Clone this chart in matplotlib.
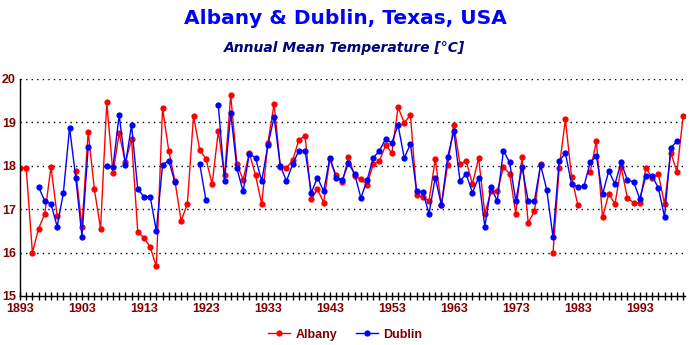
import numpy as np
import matplotlib
matplotlib.use('Agg')
import matplotlib.pyplot as plt
from matplotlib.ticker import MultipleLocator

nan = np.nan

# years 1893..2000
years = list(range(1893, 2001))

albany = [17.95, 17.95, 16.0, 16.55, 16.9, 17.97, 16.85, nan, nan, 17.87,
          16.6, 18.78, 17.46, 16.55, 19.46, 17.83, 18.75, 18.08, 18.61, 16.48,
          16.34, 16.13, 15.68, 19.33, 18.35, 17.65, 16.73, 17.12, 19.15, 18.36,
          18.16, 17.58, 18.8, 17.78, 19.63, 18.04, 17.68, 18.3, 17.78, 17.12,
          18.53, 19.43, 17.98, 17.95, 18.13, 18.6, 18.69, 17.23, 17.46, 17.15,
          18.16, 17.78, 17.62, 18.2, 17.77, 17.7, 17.56, 18.04, 18.11, 18.48,
          18.29, 19.35, 18.99, 19.17, 17.33, 17.28, 17.19, 18.15, 17.09, 18.02,
          18.94, 18.04, 18.11, 17.58, 18.18, 16.9, 17.41, 17.41, 17.97, 17.82,
          16.9, 18.2, 16.69, 16.95, 18.04, nan, 15.99, 17.95, 19.07, 17.74,
          17.1, nan, 17.86, 18.57, 16.82, 17.35, 17.12, 17.97, 17.26, 17.15,
          17.15, 17.95, 17.72, 17.81, 17.12, 18.3, 17.86, 19.15]

dublin = [nan, nan, nan, 17.51, 17.19, 17.12, 16.6, 17.38, 18.88, 17.72,
          16.37, 18.43, nan, nan, 18.0, 17.97, 19.17, 18.02, 18.94, 17.46,
          17.29, 17.29, 16.5, 18.02, 18.12, 17.62, nan, nan, nan, 18.04,
          17.21, nan, 19.4, 17.65, 19.21, 17.94, 17.41, 18.28, 18.18, 17.65,
          18.48, 19.12, 18.0, 17.65, 18.04, 18.35, 18.35, 17.38, 17.73, 17.41,
          18.19, 17.73, 17.67, 18.06, 17.81, 17.26, 17.67, 18.18, 18.35, 18.62,
          18.53, 18.94, 18.18, 18.5, 17.41, 17.39, 16.9, 17.73, 17.09, 18.2,
          18.8, 17.65, 17.81, 17.38, 17.73, 16.6, 17.51, 17.19, 18.35, 18.08,
          17.19, 17.97, 17.19, 17.19, 18.02, 17.44, 16.36, 18.11, 18.29, 17.58,
          17.51, 17.53, 18.08, 18.22, 17.35, 17.88, 17.58, 18.08, 17.67, 17.63,
          17.24, 17.77, 17.77, 17.49, 16.82, 18.41, 18.57, nan]

xticks = list(range(1893, 2000, 10))
yticks = [15, 16, 17, 18, 19, 20]

darkred = '#800000'

fig = plt.figure(figsize=(6.9, 3.45), dpi=100)
ax = fig.add_axes([20 / 690, 1 - 296 / 345, 665 / 690, 217 / 345])

ax.plot(years, albany, color='#ff0000', lw=1.0, marker='o', ms=4.5,
        markeredgewidth=0, label='Albany')
ax.plot(years, dublin, color='#0000ff', lw=1.0, marker='o', ms=4.5,
        markeredgewidth=0, label='Dublin')

ax.set_xlim(1893, 2000.3)
ax.set_ylim(15, 20)

# dotted grid
for y in yticks[1:]:
    ax.axhline(y, color='black', lw=1.0, ls=(0, (1, 3)), zorder=0)

ax.set_xticks(xticks)
ax.xaxis.set_minor_locator(MultipleLocator(1))
ax.set_yticks(yticks)
ax.tick_params(axis='x', which='both', direction='inout', length=6, width=1,
               colors='black', labelcolor=darkred, pad=2)
ax.tick_params(axis='y', length=0, labelcolor=darkred, pad=3)
for lab in ax.get_xticklabels() + ax.get_yticklabels():
    lab.set_fontweight('bold')
    lab.set_fontsize(9)
    lab.set_family('Liberation Sans')

for s in ['top', 'right']:
    ax.spines[s].set_visible(False)
ax.spines['left'].set_linewidth(1)
ax.spines['bottom'].set_linewidth(1)

fig.text(0.5, 0.945, 'Albany & Dublin, Texas, USA', ha='center', va='center',
         color='#0000ff', fontsize=14.5, fontweight='bold', family='DejaVu Sans')
fig.text(0.5, 0.862, 'Annual Mean Temperature [°C]', ha='center', va='center',
         color='#000080', fontsize=10, fontweight='bold', style='italic',
         family='DejaVu Sans')

leg = fig.legend(loc='center', bbox_to_anchor=(0.5, 0.03), ncol=2,
                 frameon=False, handlelength=1.8, columnspacing=1.5,
                 handletextpad=0.4,
                 prop={'family': 'Liberation Sans', 'weight': 'bold', 'size': 9})
for t in leg.get_texts():
    t.set_color(darkred)

plt.savefig('out.png', dpi=100)
